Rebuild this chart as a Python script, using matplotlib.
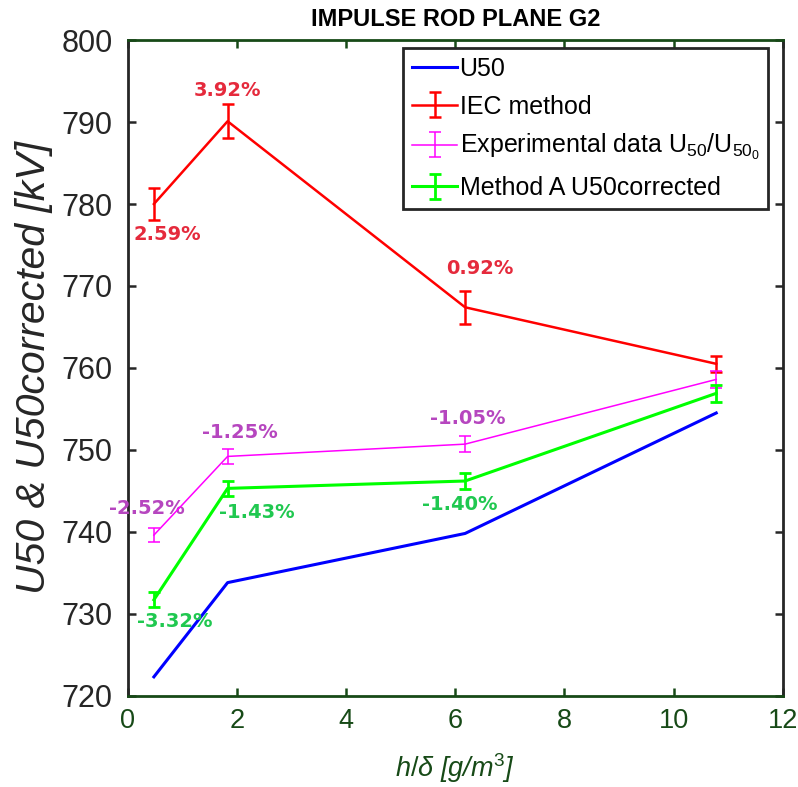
import matplotlib
matplotlib.use("Agg")
import matplotlib.pyplot as plt

# h/delta values for each test condition
h_delta = [0.48, 1.83, 6.18, 10.78]

u50 = [722.3, 733.8, 739.8, 754.5]
iec = [780.0, 790.1, 767.4, 760.5]
iec_err = [1.95, 2.05, 2.0, 1.0]
exp_data = [739.6, 749.2, 750.7, 758.6]
exp_err = [0.9, 0.95, 0.95, 1.0]
method_a = [731.7, 745.3, 746.2, 756.9]
method_a_err = [0.9, 0.95, 1.0, 1.0]

iec_pct = ["2.59%", "3.92%", "0.92%"]
exp_pct = ["-2.52%", "-1.25%", "-1.05%"]
method_a_pct = ["-3.32%", "-1.43%", "-1.40%"]

x_ticks = [0, 2, 4, 6, 8, 10, 12]
y_ticks = [720, 730, 740, 750, 760, 770, 780, 790, 800]

dark = "#262626"
green_axis = "#174a17"

plt.rcParams["mathtext.fontset"] = "custom"
plt.rcParams["mathtext.it"] = "Liberation Sans:italic"
plt.rcParams["mathtext.rm"] = "Liberation Sans"

fig = plt.figure(figsize=(7.98, 7.87), dpi=100)
ax = fig.add_axes([0.160, 0.116, 0.821, 0.833])

ax.plot(h_delta, u50, color=(0, 0, 1), lw=2.2, label="U50", zorder=3)
ax.errorbar(h_delta, iec, yerr=iec_err, color=(1, 0, 0), lw=1.8,
            elinewidth=1.8, capsize=4.5, capthick=1.8, label="IEC method", zorder=4)
ax.errorbar(h_delta, exp_data, yerr=exp_err, color=(1, 0, 1), lw=1.1,
            elinewidth=1.1, capsize=4.5, capthick=1.1,
            label=r"Experimental data $\mathregular{U_{50}/U_{50_0}}$", zorder=4)
ax.errorbar(h_delta, method_a, yerr=method_a_err, color=(0, 1, 0), lw=2.2,
            elinewidth=2.0, capsize=4.5, capthick=2.0,
            label="Method A U50corrected", zorder=4)

# percentage annotations
pct_font = dict(family="DejaVu Sans", fontweight="bold", fontsize=14,
                ha="center", va="center")
iec_pos = [(0.73, 776.3), (1.83, 793.9), (6.45, 772.1)]
exp_pos = [(0.35, 742.9), (2.05, 752.1), (6.23, 753.8)]
ma_pos = [(0.86, 729.0), (2.36, 742.3), (6.08, 743.3)]
for (x, y), t in zip(iec_pos, iec_pct):
    ax.text(x, y, t, color="#e52a3c", **pct_font)
for (x, y), t in zip(exp_pos, exp_pct):
    ax.text(x, y, t, color="#b646bf", **pct_font)
for (x, y), t in zip(ma_pos, method_a_pct):
    ax.text(x, y, t, color="#20c850", **pct_font)

ax.set_xlim(0, 12)
ax.set_ylim(720, 800)
ax.set_xticks(x_ticks)
ax.set_yticks(y_ticks)

for side in ("left", "right"):
    ax.spines[side].set_color(dark)
    ax.spines[side].set_linewidth(2)
for side in ("top", "bottom"):
    ax.spines[side].set_color(green_axis)
    ax.spines[side].set_linewidth(2)

ax.tick_params(axis="both", direction="in", length=6, width=1.8,
               top=True, right=True)
ax.tick_params(axis="x", colors=green_axis, labelsize=19.5, pad=9)
ax.tick_params(axis="y", colors=dark, labelsize=22, pad=11)
for lbl in ax.get_xticklabels() + ax.get_yticklabels():
    lbl.set_fontfamily("Liberation Sans")

ax.set_xlabel(r"$h/\delta$ [g/m$^3$]", fontsize=19.5, color=green_axis,
              fontstyle="italic", family="Liberation Sans", labelpad=12)
ax.set_ylabel("U50 & U50corrected [kV]", fontsize=29.5, color=dark,
              fontstyle="italic", family="Liberation Sans", labelpad=6)
ax.set_title("IMPULSE ROD PLANE G2", fontsize=17, fontweight="bold",
             family="Liberation Sans", color="black", pad=10)

leg = ax.legend(loc="upper right", bbox_to_anchor=(0.978, 0.988),
                borderaxespad=0, fancybox=False, framealpha=1,
                edgecolor=dark, prop={"family": "Liberation Sans", "size": 18},
                handlelength=1.8, handletextpad=0.1, borderpad=0.35,
                labelspacing=0.55)
leg.get_frame().set_linewidth(2)

fig.savefig("out.png", dpi=100, facecolor="white")
